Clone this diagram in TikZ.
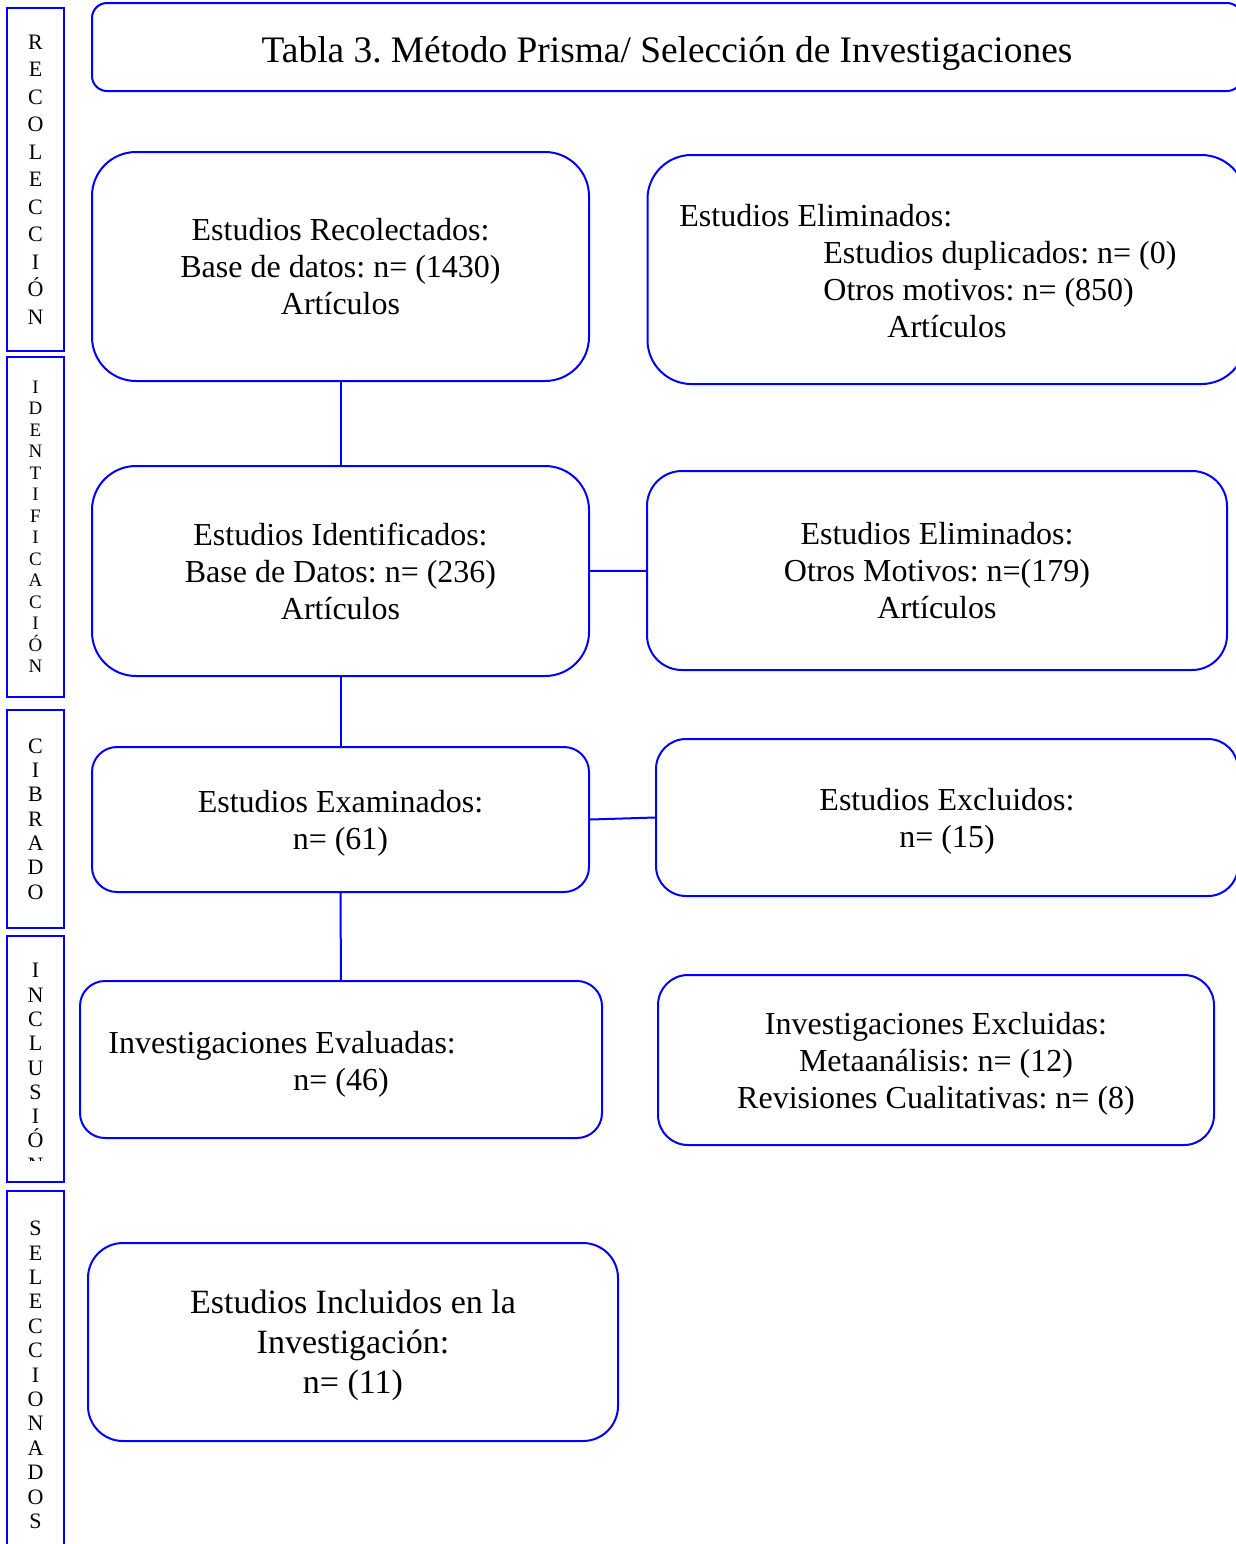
\documentclass[tikz,border=0pt]{standalone}
\usepackage{fontspec}
\setmainfont{Liberation Serif}
\frenchspacing
\begin{document}
\begin{tikzpicture}[x=0.5pt,y=-0.5pt,
  box/.style={draw=blue,line width=1pt,align=center,inner sep=0pt,text depth=0pt,
    font=\fontsize{16}{18.5}\selectfont},
  side/.style={draw=blue,line width=1pt,minimum width=28.5pt,align=center,inner sep=0pt},
  txt/.style={anchor=north west,align=left,inner sep=0pt,font=\fontsize{16}{18.5}\selectfont},
  link/.style={draw=blue,line width=1pt}]
\useasboundingbox (0,0) rectangle (1236,1544);
\clip (0,0) rectangle (1236,1544);
% side labels
\node[side,minimum height=171.5pt,font=\fontsize{11}{13.75}\selectfont] (s1) at (35.5,179.5) {R\\E\\C\\O\\L\\E\\C\\C\\I\\Ó\\N};
\node[side,minimum height=170pt,font=\fontsize{9.5}{10.75}\selectfont] (s2) at (35.5,527) {I\\D\\E\\N\\T\\I\\F\\I\\C\\A\\C\\I\\Ó\\N};
\node[side,minimum height=109pt,font=\fontsize{11}{12.15}\selectfont] (s3) at (35.5,819) {C\\I\\B\\R\\A\\D\\O};
\node[side,minimum height=123pt] (s4) at (35.5,1059) {};
\begin{scope}
\clip (10,940) rectangle (60,1160);
\node[anchor=north,align=center,inner sep=0pt,font=\fontsize{11}{12.15}\selectfont] (t4) at (35.5,963) {I\\N\\C\\L\\U\\S\\I\\Ó\\N};
\end{scope}
\node[side,minimum height=184pt,font=\fontsize{11}{12.2}\selectfont] (s5) at (35.5,1375) {S\\E\\L\\E\\C\\C\\I\\O\\N\\A\\D\\O\\S};
% title
\node[box,rounded corners=7.5pt,minimum width=575pt,minimum height=44pt] (title) at (667,47) {};
\node[inner sep=0pt,font=\fontsize{18.7}{22}\selectfont] (titlet) at (667,54) {Tabla 3. Método Prisma/ Selección de Investigaciones};
% left column
\node[box,rounded corners=22pt,minimum width=248.5pt,minimum height=114.5pt] (rec) at (340.5,266.5)
  {Estudios Recolectados:\\Base de datos: n= (1430)\\Artículos};
\node[box,rounded corners=22pt,minimum width=248.5pt,minimum height=105pt] (ide) at (340.5,571)
  {Estudios Identificados:\\Base de Datos: n= (236)\\Artículos};
\node[box,rounded corners=12.5pt,minimum width=248.5pt,minimum height=72.5pt] (exa) at (340.5,819.5)
  {Estudios Examinados:\\n= (61)};
\node[box,rounded corners=12.5pt,minimum width=261pt,minimum height=78.5pt] (eva) at (341,1059.5) {};
\node[txt] (evat) at (108,1031) {Investigaciones Evaluadas:\\\hspace*{92.5pt}n= (46)};
\node[box,rounded corners=17.5pt,minimum width=265pt,minimum height=99pt,
  font=\fontsize{17}{20}\selectfont] (inc) at (353,1342)
  {Estudios Incluidos en la\\Investigación:\\n= (11)};
% right column
\node[box,rounded corners=22pt,minimum width=299pt,minimum height=114.5pt] (eli1) at (946.5,269.5) {};
\node[txt] (eli1t) at (679,204) {Estudios Eliminados:\\\hspace*{72pt}Estudios duplicados: n= (0)\\
  \hspace*{72pt}Otros motivos: n= (850)\\\hspace*{104pt}Artículos};
\node[box,rounded corners=17.5pt,minimum width=290pt,minimum height=99.5pt] (eli2) at (937,570.5)
  {Estudios Eliminados:\\Otros Motivos: n=(179)\\Artículos};
\node[box,rounded corners=15pt,minimum width=291pt,minimum height=78.5pt] (exc) at (947,817.5)
  {Estudios Excluidos:\\n= (15)};
\node[box,rounded corners=15pt,minimum width=278pt,minimum height=85pt] (iex) at (936,1060)
  {Investigaciones Excluidas:\\Metaanálisis: n= (12)\\Revisiones Cualitativas: n= (8)};
% links
\path[link] (rec) -- (ide);
\path[link] (ide) -- (exa);
\path[link] (exa) -- (eva);
\path[link] (ide) -- (eli2);
\path[link] (exa.east) -- (exc.west);
\end{tikzpicture}
\end{document}
